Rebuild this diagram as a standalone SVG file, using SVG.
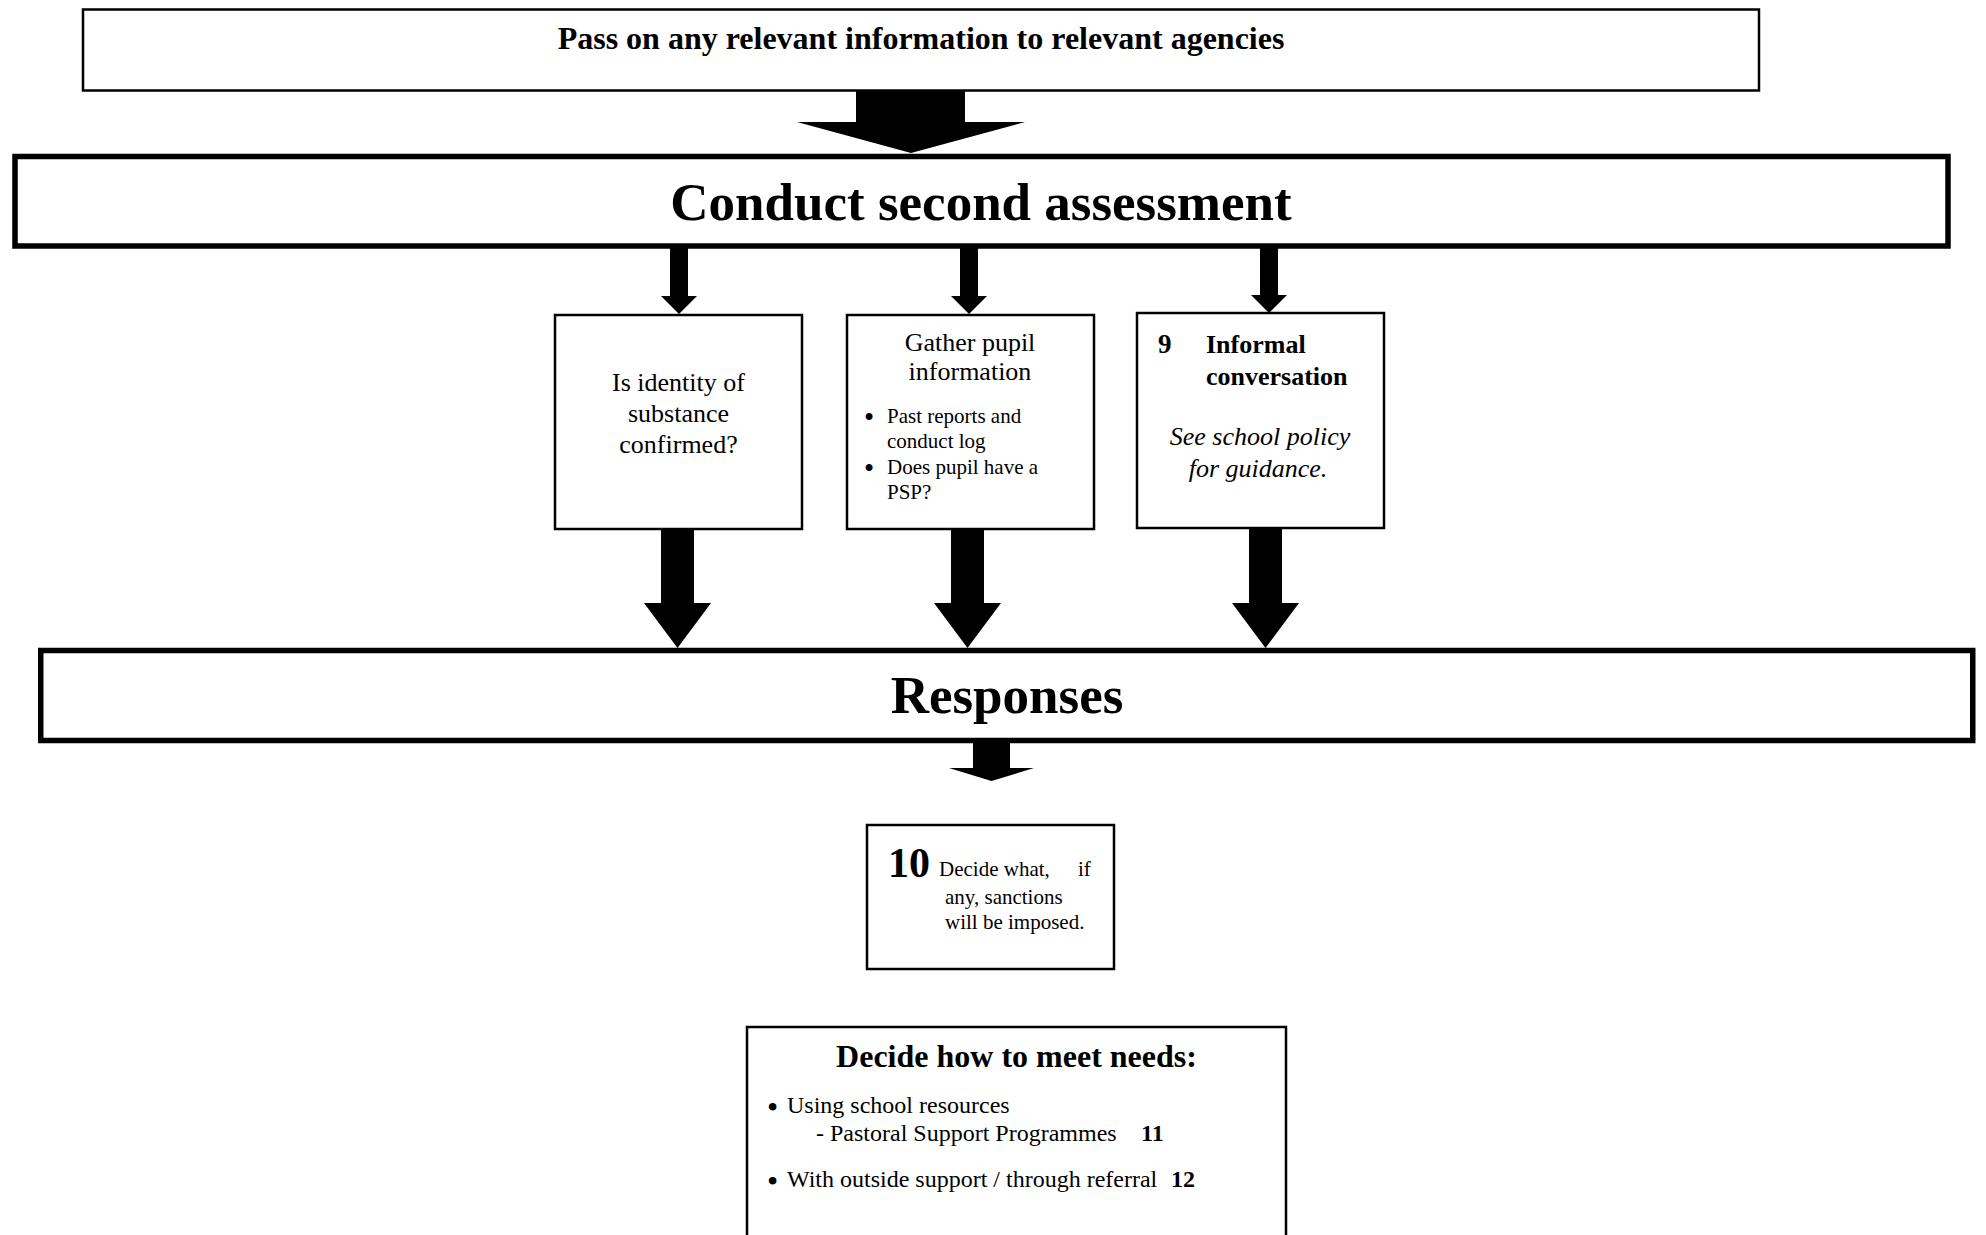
<svg xmlns="http://www.w3.org/2000/svg" width="1986" height="1235" viewBox="0 0 1986 1235">
<style>
text{font-family:"Liberation Serif","Times New Roman",serif;fill:#000}
.b{font-weight:bold}
.i{font-style:italic}
.box{fill:#fff;stroke:#000;stroke-width:2.5}
.thick{fill:#fff;stroke:#000;stroke-width:5.5}
.arr{fill:#000;stroke:none}
</style>
<rect width="1986" height="1235" fill="#fff"/>
<g id="node-pass">
<rect class="box" x="83" y="9.5" width="1676" height="81"/>
<text class="b" x="921" y="49" font-size="32" text-anchor="middle">Pass on any relevant information to relevant agencies</text>
</g>
<g id="node-conduct">
<rect class="thick" x="15" y="156.5" width="1933" height="89.5"/>
<text class="b" x="981" y="220" font-size="53" text-anchor="middle">Conduct second assessment</text>
</g>
<g id="node-identity">
<rect class="box" x="555" y="315" width="247" height="214"/>
<text x="678.5" y="391" font-size="26" text-anchor="middle">Is identity of</text>
<text x="678.5" y="422" font-size="26" text-anchor="middle">substance</text>
<text x="678.5" y="453" font-size="26" text-anchor="middle">confirmed?</text>
</g>
<g id="node-gather">
<rect class="box" x="847" y="315" width="247" height="214"/>
<text x="970" y="351" font-size="26" text-anchor="middle">Gather pupil</text>
<text x="970" y="380" font-size="26" text-anchor="middle">information</text>
<text x="864" y="427" font-size="29">•</text>
<text x="887" y="423" font-size="21">Past reports and</text>
<text x="887" y="448" font-size="21">conduct log</text>
<text x="864" y="478" font-size="29">•</text>
<text x="887" y="474" font-size="21">Does pupil have a</text>
<text x="887" y="499" font-size="21">PSP?</text>
</g>
<g id="node-informal">
<rect class="box" x="1137" y="313" width="247" height="215"/>
<text class="b" x="1158" y="353" font-size="27">9</text>
<text class="b" x="1206" y="353" font-size="26">Informal</text>
<text class="b" x="1206" y="385" font-size="26">conversation</text>
<text class="i" x="1260" y="445" font-size="26" text-anchor="middle">See school policy</text>
<text class="i" x="1258" y="477" font-size="26" text-anchor="middle">for guidance.</text>
</g>
<g id="node-responses">
<rect class="thick" x="40.75" y="650.5" width="1932" height="90"/>
<text class="b" x="1007" y="713" font-size="53" text-anchor="middle">Responses</text>
</g>
<g id="node-sanctions">
<rect class="box" x="867" y="825" width="247" height="144"/>
<text class="b" x="888" y="877" font-size="42">10</text>
<text x="939" y="876" font-size="21">Decide what,</text>
<text x="1078" y="876" font-size="21">if</text>
<text x="945" y="904" font-size="21">any, sanctions</text>
<text x="945" y="929" font-size="21">will be imposed.</text>
</g>
<g id="node-needs">
<rect class="box" x="747" y="1027" width="539" height="300"/>
<text class="b" x="1016.5" y="1067" font-size="32" text-anchor="middle">Decide how to meet needs:</text>
<text x="767" y="1118" font-size="32">•</text>
<text x="787" y="1113" font-size="24">Using school resources</text>
<text x="816" y="1141" font-size="24">- Pastoral Support Programmes</text>
<text class="b" x="1141" y="1141" font-size="24">11</text>
<text x="767" y="1192" font-size="32">•</text>
<text x="787" y="1187" font-size="24">With outside support / through referral</text>
<text class="b" x="1171" y="1187" font-size="24">12</text>
</g>
<g id="connectors">
<polygon class="arr" points="856,90 965,90 965,122 1025,122 911,153 797,122 856,122"/>
<polygon class="arr" points="670,246 688,246 688,296 697,296 679,314 661,296 670,296"/>
<polygon class="arr" points="960,246 978,246 978,296 987,296 969,314 951,296 960,296"/>
<polygon class="arr" points="1260,246 1278,246 1278,295 1287,295 1269,313 1251,295 1260,295"/>
<polygon class="arr" points="661,529 694,529 694,603 711,603 677.5,648 644,603 661,603"/>
<polygon class="arr" points="951,529 984,529 984,603 1001,603 967.5,648 934,603 951,603"/>
<polygon class="arr" points="1249,528 1282,528 1282,603 1299,603 1265.5,648 1232,603 1249,603"/>
<polygon class="arr" points="973,740 1010,740 1010,768 1034,768 991.5,781 949,768 973,768"/>
</g>
</svg>
